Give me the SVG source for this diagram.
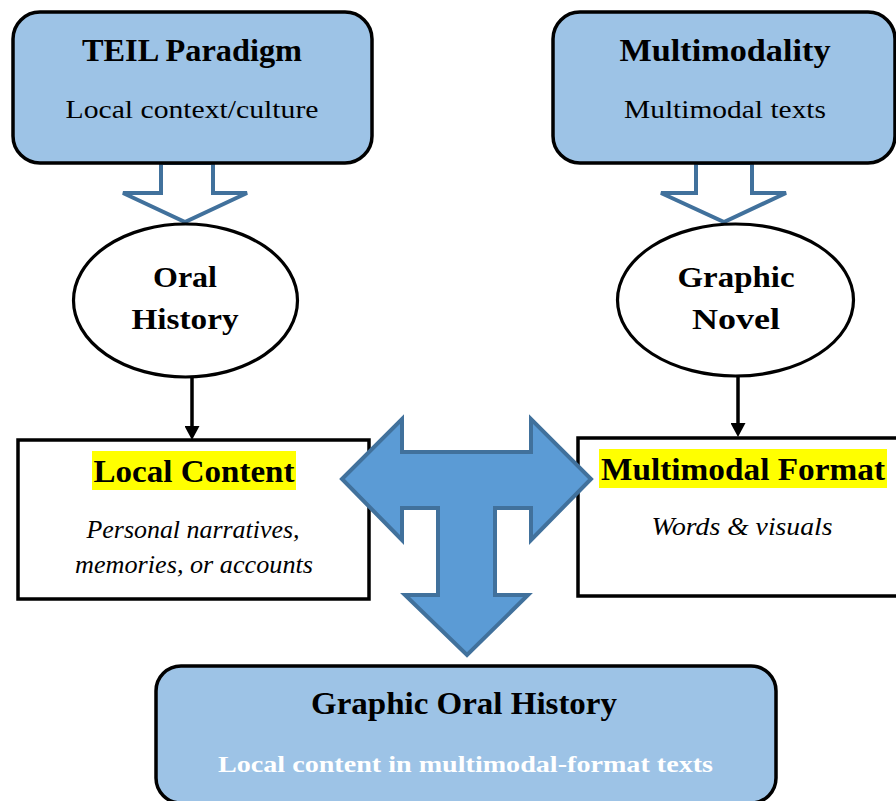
<svg xmlns="http://www.w3.org/2000/svg" width="896" height="801" viewBox="0 0 896 801">
<style>
  .box{fill:#9DC3E6;stroke:#000;stroke-width:3.5}
  .plain{fill:#fff;stroke:#000;stroke-width:3.5}
  .ell{fill:#fff;stroke:#000;stroke-width:3.2}
  .hollow{fill:#fff;stroke:#41719C;stroke-width:4;stroke-linejoin:miter}
  .big{fill:#5B9BD5;stroke:#41719C;stroke-width:4;stroke-linejoin:miter}
  .conn{stroke:#000;stroke-width:3.5;fill:none}
  .hl{fill:#FFFF00}
  text{font-family:"Liberation Serif","Times New Roman",serif;text-anchor:middle;fill:#000}
  .t{font-weight:bold;font-size:31px}
  .s{font-size:25px}
  .i{font-style:italic;font-size:25px}
  .e{font-weight:bold;font-size:29px}
  .w{font-weight:bold;font-size:24px;fill:#fff}
</style>
<defs>
  <marker id="ah" markerUnits="userSpaceOnUse" markerWidth="14" markerHeight="15" refX="2" refY="7.5" orient="auto">
    <path d="M0,0 L14,7.5 L0,15 z" fill="#000"/>
  </marker>
</defs>

<g id="connectors">
  <polygon class="hollow" points="161,163 213,163 213,193 247,193 185,222 123,193 161,193"/>
  <polygon class="hollow" points="696,163 752,163 752,193 786,193 724,222 661,193 696,193"/>
  <line class="conn" x1="192" y1="378" x2="192" y2="428" marker-end="url(#ah)"/>
  <line class="conn" x1="738" y1="377" x2="738" y2="425" marker-end="url(#ah)"/>
</g>

<g id="teil">
  <rect class="box" x="13" y="12" width="359" height="151" rx="27"/>
  <text class="t" x="192" y="61" textLength="220" lengthAdjust="spacingAndGlyphs">TEIL Paradigm</text>
  <text class="s" x="192" y="118" textLength="253" lengthAdjust="spacingAndGlyphs">Local context/culture</text>
</g>

<g id="multimodality">
  <rect class="box" x="553" y="12" width="342" height="151" rx="27"/>
  <text class="t" x="725" y="61" textLength="211" lengthAdjust="spacingAndGlyphs">Multimodality</text>
  <text class="s" x="725" y="118" textLength="202" lengthAdjust="spacingAndGlyphs">Multimodal texts</text>
</g>

<g id="oral-history">
  <ellipse class="ell" cx="185.5" cy="300.5" rx="112" ry="76.5"/>
  <text class="e" x="185" y="287" textLength="64" lengthAdjust="spacingAndGlyphs">Oral</text>
  <text class="e" x="185" y="329" textLength="107" lengthAdjust="spacingAndGlyphs">History</text>
</g>

<g id="graphic-novel">
  <ellipse class="ell" cx="735.5" cy="300" rx="118" ry="76"/>
  <text class="e" x="736" y="287" textLength="117" lengthAdjust="spacingAndGlyphs">Graphic</text>
  <text class="e" x="736" y="329" textLength="88" lengthAdjust="spacingAndGlyphs">Novel</text>
</g>

<g id="local-content">
  <rect class="plain" x="18" y="440" width="351" height="159"/>
  <rect class="hl" x="92" y="451" width="204" height="39"/>
  <text class="t" x="194" y="482" textLength="201" lengthAdjust="spacingAndGlyphs">Local Content</text>
  <text class="i" x="193" y="538" textLength="213" lengthAdjust="spacingAndGlyphs">Personal narratives,</text>
  <text class="i" x="194" y="573" textLength="238" lengthAdjust="spacingAndGlyphs">memories, or accounts</text>
</g>

<g id="multimodal-format">
  <rect class="plain" x="578" y="438" width="330" height="158"/>
  <rect class="hl" x="599" y="449" width="288" height="39"/>
  <text class="t" x="743" y="480" textLength="284" lengthAdjust="spacingAndGlyphs">Multimodal Format</text>
  <text class="i" x="742" y="535" textLength="181" lengthAdjust="spacingAndGlyphs">Words &amp; visuals</text>
</g>

<g id="t-arrow">
  <polygon class="big" points="342,479 402,419 402,452 531,452 531,419 591,479 531,540 531,508 495,508 495,595 528,595 467,655 405,595 438,595 438,508 402,508 402,540"/>
</g>

<g id="graphic-oral-history">
  <rect class="box" x="156" y="666" width="620" height="137" rx="25"/>
  <text class="t" x="464" y="714" textLength="306" lengthAdjust="spacingAndGlyphs">Graphic Oral History</text>
  <text class="w" x="465.5" y="772" textLength="495" lengthAdjust="spacingAndGlyphs">Local content in multimodal-format texts</text>
</g>
</svg>
